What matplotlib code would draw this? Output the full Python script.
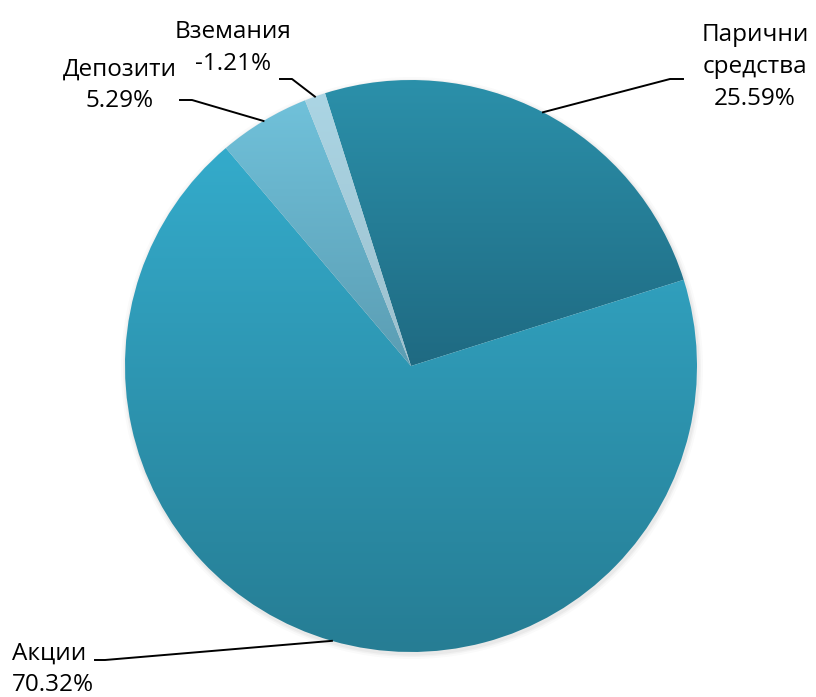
import numpy as np
import matplotlib.pyplot as plt
from matplotlib.colors import LinearSegmentedColormap

# data
labels = ['Парични\nсредства', 'Акции', 'Депозити', 'Вземания']
values = [25.59, 70.32, 5.29, -1.21]
# gradient colours per slice (top, bottom)
grad = [('#2b90aa', '#1f6a82'),
        ('#34abcb', '#267d94'),
        ('#70c1da', '#5b9db3'),
        ('#abd5e4', '#9cc0ce')]

W, H = 816, 697
fig = plt.figure(figsize=(W / 100, H / 100), dpi=100)
ax = fig.add_axes([0, 0, 1, 1])

cx, cy, r = 411, H - 366, 286

# soft shadow around the pie
for k, a in [(5, 0.04), (3, 0.06), (1.5, 0.08)]:
    ax.add_patch(plt.Circle((cx + 1, cy - 2), r + k, color='gray', alpha=a, lw=0))

sizes = np.abs(values)
wedges, _ = ax.pie(sizes, center=(cx, cy), radius=r, startangle=107.5,
                   counterclock=False, frame=True,
                   wedgeprops=dict(facecolor='none', edgecolor='none'))
ax.set_xlim(0, W)
ax.set_ylim(0, H)
ax.set_aspect('equal')
ax.axis('off')

for w, (c_top, c_bot) in zip(wedges, grad):
    bb = w.get_path().get_extents(w.get_patch_transform())
    cmap = LinearSegmentedColormap.from_list('g', [c_bot, c_top])
    grd = np.linspace(0, 1, 256).reshape(-1, 1)
    im = ax.imshow(grd, cmap=cmap, origin='lower', aspect='auto',
                   extent=[bb.x0, bb.x1, bb.y0, bb.y1], zorder=2)
    im.set_clip_path(w)

# labels: text position, alignment, elbow points (pixel coords, y down)
txt_pos = [(755, 67), (12, 669), (120, 85), (233, 48)]
txt_ha = ['center', 'left', 'center', 'center']
elbow = [(683, 79), (95, 660), (180, 100), (280, 79)]
elbow2 = [(670, 79), (105, 660), (192, 100), (292, 79)]

for w, lab, v, tp, ha, e1, e2 in zip(wedges, labels, values, txt_pos, txt_ha, elbow, elbow2):
    mid = np.deg2rad((w.theta1 + w.theta2) / 2)
    px, py = cx + r * np.cos(mid), cy + r * np.sin(mid)
    ax.plot([e1[0], e2[0], px], [H - e1[1], H - e2[1], py], color='black', lw=1.4, zorder=3)
    ax.text(tp[0], H - tp[1], '%s\n%.2f%%' % (lab, v), ha=ha, va='center', multialignment=ha,
            fontsize=17.5, family='Open Sans', linespacing=1.42, zorder=4)

fig.savefig('out.png', dpi=100)
